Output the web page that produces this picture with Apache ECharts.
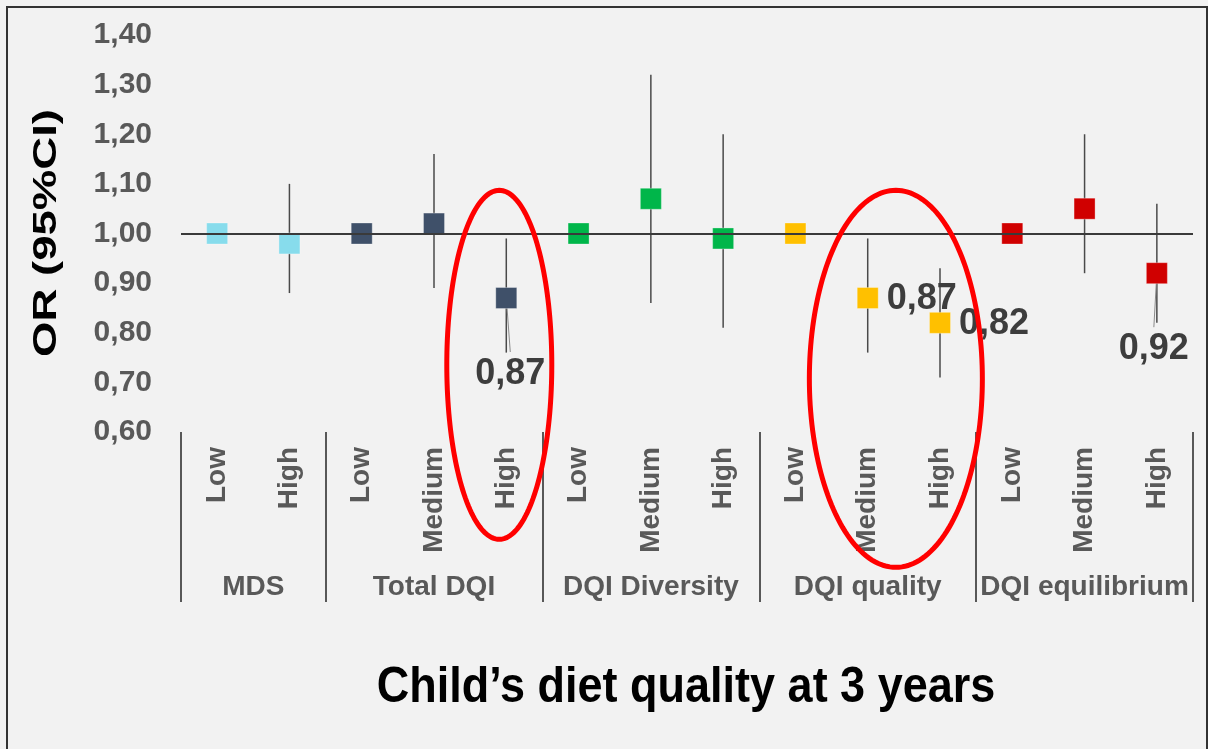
<!DOCTYPE html>
<html>
<head>
<meta charset="utf-8">
<script src="https://cdn.jsdelivr.net/npm/echarts@6/dist/echarts.min.js"></script>
<style>
  html, body { margin: 0; padding: 0; background: #f2f2f2; }
  #chart { width: 1208px; height: 749px; }
</style>
</head>
<body>
<div id="chart"></div>
<script>
// Diet-quality levels (one per plotted estimate) and the score each belongs to
const levels = ['Low', 'High', 'Low', 'Medium', 'High', 'Low', 'Medium', 'High', 'Low', 'Medium', 'High', 'Low', 'Medium', 'High'];
const groupOf = [0, 0, 1, 1, 1, 2, 2, 2, 3, 3, 3, 4, 4, 4];
const groupNames = ['MDS', 'Total DQI', 'DQI Diversity', 'DQI quality', 'DQI equilibrium'];
const groupStart = [0, 2, 5, 8, 11];
const groupEnd = [1, 4, 7, 10, 13];
const groupColors = ['#87dcec', '#3f5069', '#00b64a', '#ffc000', '#d00000'];

// Odds ratios with 95% confidence limits (reference level has none)
const oddsRatio = [1.00, 0.98, 1.00, 1.02, 0.87, 1.00, 1.07, 0.99, 1.00, 0.87, 0.82, 1.00, 1.05, 0.92];
const ciLower   = [null, 0.88, null, 0.89, 0.76, null, 0.86, 0.81, null, 0.76, 0.71, null, 0.92, 0.82];
const ciUpper   = [null, 1.10, null, 1.16, 0.99, null, 1.32, 1.20, null, 0.99, 0.93, null, 1.20, 1.06];

// Estimates whose value is printed, and where the printed value goes
const labelledIndex = [4, 9, 10, 13];
const labelSide = ['below', 'right', 'right', 'below'];

// Value axis range
const yMin = 0.6, yMax = 1.4, yStep = 0.1;
const fmt = v => v.toFixed(2).replace('.', ',');

const FONT = 'Liberation Sans, Arial, sans-serif';
const chart = echarts.init(document.getElementById('chart'), null, { renderer: 'canvas' });

const scatterData = oddsRatio.map((v, i) => {
  const item = { value: [i, v], itemStyle: { color: groupColors[groupOf[i]] } };
  const k = labelledIndex.indexOf(i);
  if (k >= 0) {
    const below = labelSide[k] === 'below';
    item.label = {
      show: true,
      position: below ? 'bottom' : 'right',
      distance: below ? 47 : 8,
      offset: below ? [i === 4 ? 4 : -3, 0] : [0, 1],
      formatter: p => fmt(p.value[1]),
      fontFamily: FONT,
      fontWeight: 'bold',
      fontSize: 36,
      color: '#3d3d3d'
    };
  }
  return item;
});

const ciData = [];
oddsRatio.forEach((v, i) => {
  if (ciLower[i] != null) ciData.push([i, ciLower[i], ciUpper[i], v]);
});

const groupData = groupNames.map((n, g) => [groupStart[g], groupEnd[g], g]);

const option = {
  backgroundColor: '#f2f2f2',
  animation: false,
  grid: { left: 181, right: 15, top: 35, bottom: 317, containLabel: false },
  xAxis: {
    type: 'category',
    data: levels,
    boundaryGap: true,
    axisLine: { show: false },
    axisTick: {
      show: true,
      length: 170,
      interval: (i) => groupStart.indexOf(i) >= 0,
      lineStyle: { color: '#262626', width: 1.5 }
    },
    axisLabel: {
      interval: 0,
      rotate: 90,
      margin: 15,
      fontFamily: FONT,
      fontSize: 28,
      fontWeight: 'bold',
      color: '#595959'
    },
    splitLine: { show: false }
  },
  yAxis: {
    type: 'value',
    min: yMin,
    max: yMax,
    interval: yStep,
    axisLine: { show: false },
    axisTick: { show: false },
    splitLine: { show: false },
    axisLabel: {
      margin: 29,
      formatter: v => fmt(v),
      fontFamily: FONT,
      fontSize: 30,
      fontWeight: 'bold',
      color: '#595959'
    }
  },
  series: [
    {
      // confidence interval whiskers + leader lines to printed values
      type: 'custom',
      z: 2,
      clip: false,
      data: ciData,
      renderItem: (params, api) => {
        const i = api.value(0);
        const lo = api.coord([i, api.value(1)]);
        const hi = api.coord([i, api.value(2)]);
        const children = [{
          type: 'line',
          shape: { x1: lo[0], y1: lo[1], x2: hi[0], y2: hi[1] },
          style: { stroke: '#4a4a4a', lineWidth: 1.5 }
        }];
        const k = labelledIndex.indexOf(i);
        if (k >= 0 && labelSide[k] === 'below') {
          const c = api.coord([i, api.value(3)]);
          const dx = i === 4 ? 4 : -3;
          children.push({
            type: 'line',
            shape: { x1: c[0], y1: c[1], x2: c[0] + dx, y2: c[1] + 54 },
            style: { stroke: '#8a8a8a', lineWidth: 1 }
          });
        }
        return { type: 'group', children };
      }
    },
    {
      type: 'scatter',
      z: 3,
      symbol: 'rect',
      symbolSize: 21,
      data: scatterData,
      itemStyle: { opacity: 1, borderColor: 'rgba(255,255,255,0.3)', borderWidth: 1 },
      markLine: {
        silent: true,
        symbol: 'none',
        label: { show: false },
        lineStyle: { color: '#3a3a3a', width: 2, type: 'solid', opacity: 1 },
        data: [{ yAxis: 1 }]
      }
    },
    {
      // score names under each block of levels
      type: 'custom',
      z: 2,
      clip: false,
      data: groupData,
      renderItem: (params, api) => {
        const a = api.coord([api.value(0), yMin]);
        const b = api.coord([api.value(1), yMin]);
        return {
          type: 'text',
          style: {
            x: (a[0] + b[0]) / 2,
            y: a[1] + 155,
            text: groupNames[api.value(2)],
            align: 'center',
            verticalAlign: 'middle',
            fontFamily: FONT,
            fontSize: 28,
            fontWeight: 'bold',
            fill: '#595959'
          }
        };
      }
    }
  ]
};

chart.setOption(option);

// Highlight rings around the lower estimates, plus titles and frame
function ellipsePoints(cx, cy, rx, ry) {
  const pts = [];
  for (let t = 0; t < 180; t++) {
    const a = (t / 180) * Math.PI * 2;
    pts.push([cx + rx * Math.cos(a), cy + ry * Math.sin(a)]);
  }
  return pts;
}
const p4 = chart.convertToPixel({ gridIndex: 0 }, [4, 1.09]);
const p9 = chart.convertToPixel({ gridIndex: 0 }, [9, 1.09]);
const p10 = chart.convertToPixel({ gridIndex: 0 }, [10, 1.09]);
const ringStyle = { fill: 'none', stroke: '#ff0000', lineWidth: 5 };

chart.setOption({
  graphic: [
    {
      type: 'polygon', z: 10, silent: true,
      shape: { points: ellipsePoints(p4[0] - 7, p4[1] + 176, 52.5, 174.5) },
      style: ringStyle
    },
    {
      type: 'polygon', z: 10, silent: true,
      shape: { points: ellipsePoints((p9[0] + p10[0]) / 2 - 8, p9[1] + 190, 86.5, 188.5) },
      style: ringStyle
    },
    {
      type: 'text', silent: true,
      x: 47, y: 233, rotation: Math.PI / 2, scaleX: 1.38,
      style: {
        text: 'OR (95%CI)', fontFamily: FONT, fontWeight: 'bold', fontSize: 33,
        fill: '#000', align: 'center', verticalAlign: 'middle'
      }
    },
    {
      type: 'text', silent: true,
      x: 686, y: 688, scaleY: 1.1,
      style: {
        text: 'Child\u2019s diet quality at 3 years', fontFamily: FONT, fontWeight: 'bold', fontSize: 45,
        fill: '#000', align: 'center', verticalAlign: 'middle'
      }
    },
    {
      type: 'rect', silent: true,
      shape: { x: 7, y: 7, width: 1200, height: 760 },
      style: { fill: 'none', stroke: '#333', lineWidth: 2 }
    }
  ]
});
</script>
</body>
</html>
